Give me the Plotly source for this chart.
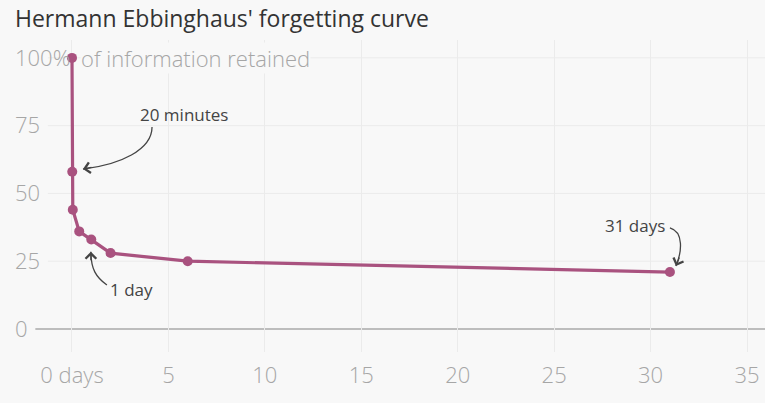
import plotly.graph_objects as go

# Data: Ebbinghaus forgetting curve
days = [0, 20/1440, 1/24, 9/24, 1, 2, 6, 31]
retained = [100, 58, 44, 36, 33, 28, 25, 21]

x_ticks = [0, 5, 10, 15, 20, 25, 30, 35]
x_ticktext = ["0 days", "5", "10", "15", "20", "25", "30", "35"]
y_ticks = [0, 25, 50, 75, 100]
y_ticktext = ["0", "25", "50", "75", "100%"]

title = "Hermann Ebbinghaus' forgetting curve"
y_label = "of information retained"

FONT = "Open Sans"
BG = "#f8f8f8"
LINE = "#a9527f"
TICK = "#a6a6a6"
GRID = "#ebebeb"
ANN = "#444444"

fig = go.Figure()
fig.add_trace(go.Scatter(
    x=days, y=retained, mode="lines+markers",
    line=dict(color=LINE, width=3.2),
    marker=dict(color=LINE, size=10),
    hoverinfo="skip", showlegend=False, cliponaxis=False,
))

shapes = []
# horizontal gridlines
for v in y_ticks:
    if v == 0:
        shapes.append(dict(type="line", xref="x", yref="y", x0=-1.9, x1=35.93, y0=v, y1=v,
                           line=dict(color="#aaaaaa", width=1.5), layer="below"))
    else:
        shapes.append(dict(type="line", xref="x", yref="y", x0=-1.25, x1=35.93, y0=v, y1=v,
                           line=dict(color=GRID, width=1), layer="below"))

# curved annotation arrows
arrow_line = dict(color=ANN, width=1.3)
shapes.append(dict(type="path", xref="x", yref="y",
                   path="M 4.15,74.5 C 4.15,66.1 2.49,60.5 0.57,59.0", line=arrow_line))
shapes.append(dict(type="path", xref="x", yref="y",
                   path="M 1.81,16.2 C 1.24,19.2 0.98,22.1 0.98,28.5", line=arrow_line))
shapes.append(dict(type="path", xref="x", yref="y",
                   path="M 31.0,37.3 C 31.73,35.8 31.62,28.4 31.31,23.2", line=arrow_line))

annotations = [
    dict(x=0.41, y=100, xref="x", yref="y", text=y_label, showarrow=False,
         xanchor="left", yanchor="middle",
         font=dict(family=FONT, size=22, color=TICK, weight=300),
         bgcolor=BG, borderpad=0),
    dict(x=3.42, y=79.0, xref="x", yref="y", text="20 minutes", showarrow=False,
         xanchor="left", yanchor="middle", font=dict(family=FONT, size=17, color=ANN)),
    dict(x=1.87, y=14.4, xref="x", yref="y", text="1 day", showarrow=False,
         xanchor="left", yanchor="middle", font=dict(family=FONT, size=17, color=ANN)),
    dict(x=30.85, y=38.0, xref="x", yref="y", text="31 days", showarrow=False,
         xanchor="right", yanchor="middle", font=dict(family=FONT, size=17, color=ANN)),
    # arrowheads
    dict(x=0.57, y=59.0, xref="x", yref="y", text="", showarrow=True, ax=10, ay=-2,
         arrowhead=4, arrowsize=1.6, arrowwidth=1.3, arrowcolor=ANN, standoff=0),
    dict(x=0.98, y=28.5, xref="x", yref="y", text="", showarrow=True, ax=0, ay=10,
         arrowhead=4, arrowsize=1.6, arrowwidth=1.3, arrowcolor=ANN, standoff=0),
    dict(x=31.31, y=23.2, xref="x", yref="y", text="", showarrow=True, ax=4, ay=-10,
         arrowhead=4, arrowsize=1.6, arrowwidth=1.3, arrowcolor=ANN, standoff=0),
]

fig.update_layout(
    width=765, height=403,
    paper_bgcolor=BG, plot_bgcolor=BG,
    margin=dict(l=12, r=0, t=40, b=51),
    title=dict(text=title, x=15/765, xanchor="left", xref="container",
               y=1-19/403, yanchor="middle", yref="container",
               font=dict(family=FONT, size=23, color="#333333")),
    xaxis=dict(range=[-3.11, 35.93], tickvals=x_ticks, ticktext=x_ticktext,
               showgrid=True, gridcolor=GRID, gridwidth=1, zeroline=False,
               showline=False, ticks="", ticklabelstandoff=8,
               tickfont=dict(family=FONT, size=22, color=TICK, weight=300)),
    yaxis=dict(range=[-8.49, 106.6], tickvals=y_ticks, ticktext=y_ticktext,
               showgrid=False, zeroline=False, showline=False, ticks="",
               ticklabelposition="inside",
               tickfont=dict(family=FONT, size=22, color=TICK, weight=300)),
    shapes=shapes,
    annotations=annotations,
)

fig.write_html("out.html", config={"displayModeBar": False},
               post_script="document.body.style.margin='0';")
